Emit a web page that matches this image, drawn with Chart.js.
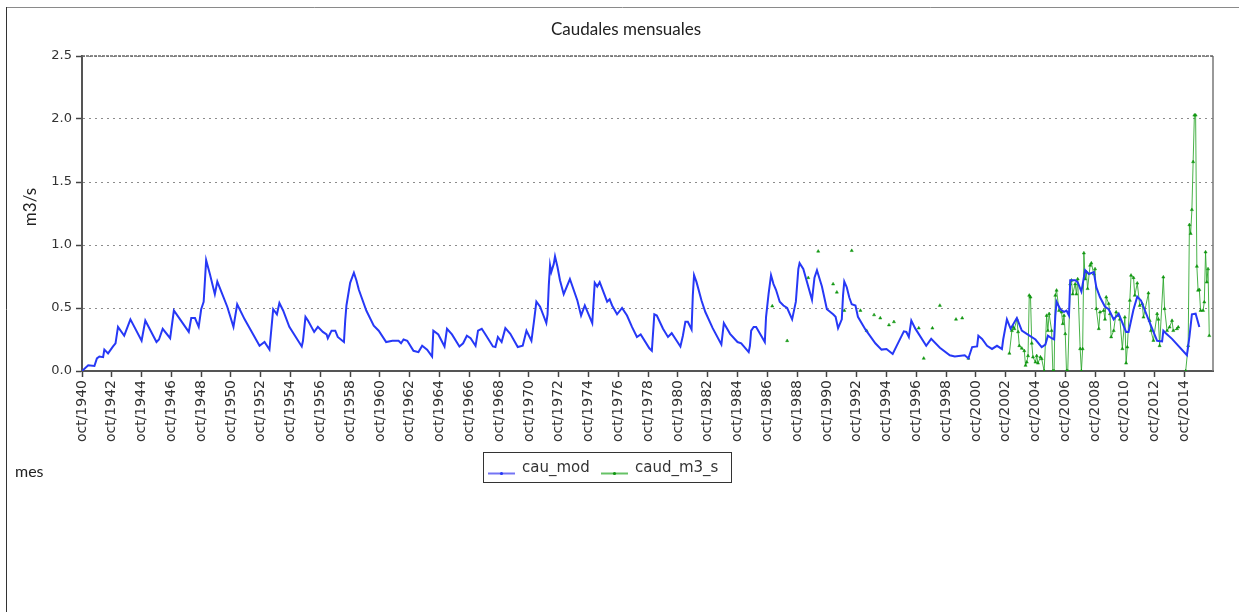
<!DOCTYPE html>
<html>
<head>
<meta charset="utf-8">
<title>Caudales mensuales</title>
<script src="https://cdn.jsdelivr.net/npm/chart.js@4.4.1/dist/chart.umd.min.js"></script>
<style>
  html, body { margin: 0; padding: 0; background: #fff; }
  #wrap { position: relative; width: 1239px; height: 612px; }
</style>
</head>
<body>
<div id="wrap"><canvas id="caudales" width="1239" height="612"></canvas></div>
<script>
// mes 0 = oct/1940, una etiqueta cada 24 meses
const startYear = 1940;
const lastMonth = 911;

// caudal modelado (cau_mod), m3/s
const cauModMonths = [0, 5, 10, 12, 14, 17, 18, 21, 25, 27, 29, 34, 39, 48, 51, 60, 62, 65, 71, 74,
  79, 86, 88, 91, 94, 96, 98, 100, 103, 107, 109, 117, 122, 125, 131, 143, 147, 151, 154, 157,
  159, 162, 167, 177, 178, 180, 182, 187, 190, 194, 197, 198, 201, 204, 206, 211, 212, 213, 216, 219,
  221, 223, 229, 235, 239, 245, 250, 255, 257, 259, 262, 267, 271, 274, 278, 282, 283, 287, 292, 294,
  298, 304, 307, 310, 313, 317, 319, 322, 325, 331, 333, 335, 338, 341, 345, 351, 355, 358, 362, 364,
  366, 369, 374, 375, 376, 377, 378, 380, 381, 383, 385, 388, 393, 399, 402, 405, 411, 413, 415, 417,
  423, 425, 427, 431, 435, 439, 443, 447, 450, 457, 459, 461, 463, 468, 472, 475, 479, 482, 484, 486,
  488, 491, 492, 493, 495, 499, 502, 508, 515, 517, 522, 528, 531, 537, 538, 539, 541, 543, 550, 551,
  553, 555, 557, 559, 562, 565, 568, 572, 575, 577, 578, 581, 588, 590, 592, 596, 600, 605, 607, 609,
  612, 613, 614, 616, 618, 620, 623, 625, 631, 639, 644, 648, 653, 656, 659, 662, 664, 666, 668, 671,
  680, 684, 691, 699, 703, 711, 714, 717, 721, 722, 725, 729, 733, 737, 741, 742, 745, 748, 750, 753,
  757, 761, 768, 773, 776, 778, 781, 783, 784, 785, 788, 791, 793, 795, 796, 800, 802, 805, 808, 811,
  815, 817, 820, 824, 827, 831, 835, 841, 843, 847, 850, 853, 859, 866, 870, 871, 873, 878, 890, 892,
  894, 897, 900];
const cauModValues = [0.00, 0.045, 0.04, 0.10, 0.115, 0.11, 0.17, 0.14, 0.195, 0.22, 0.35, 0.28, 0.41, 0.24, 0.40, 0.23, 0.25, 0.335, 0.26, 0.48,
  0.41, 0.31, 0.42, 0.42, 0.35, 0.49, 0.55, 0.88, 0.77, 0.61, 0.71, 0.51, 0.35, 0.53, 0.41, 0.20, 0.23, 0.17, 0.49, 0.45,
  0.54, 0.48, 0.35, 0.195, 0.24, 0.43, 0.40, 0.31, 0.35, 0.31, 0.29, 0.26, 0.32, 0.32, 0.27, 0.23, 0.40, 0.52, 0.70, 0.78,
  0.72, 0.645, 0.48, 0.36, 0.32, 0.23, 0.24, 0.24, 0.22, 0.25, 0.24, 0.16, 0.15, 0.20, 0.17, 0.115, 0.32, 0.29, 0.195, 0.335,
  0.29, 0.195, 0.22, 0.28, 0.26, 0.20, 0.32, 0.335, 0.29, 0.195, 0.19, 0.27, 0.23, 0.34, 0.295, 0.19, 0.20, 0.32, 0.24, 0.39,
  0.55, 0.51, 0.38, 0.45, 0.68, 0.84, 0.785, 0.85, 0.91, 0.825, 0.72, 0.61, 0.73, 0.56, 0.44, 0.52, 0.38, 0.70, 0.67, 0.705,
  0.55, 0.57, 0.52, 0.45, 0.50, 0.44, 0.35, 0.27, 0.29, 0.18, 0.16, 0.45, 0.44, 0.335, 0.27, 0.30, 0.24, 0.195, 0.28, 0.39,
  0.39, 0.33, 0.60, 0.76, 0.705, 0.56, 0.47, 0.34, 0.21, 0.38, 0.295, 0.23, 0.22, 0.15, 0.20, 0.32, 0.35, 0.35, 0.23, 0.43,
  0.61, 0.76, 0.69, 0.645, 0.55, 0.52, 0.50, 0.41, 0.55, 0.81, 0.856, 0.81, 0.565, 0.74, 0.80, 0.67, 0.49, 0.45, 0.43, 0.34,
  0.41, 0.60, 0.71, 0.665, 0.585, 0.53, 0.52, 0.43, 0.33, 0.22, 0.17, 0.175, 0.135, 0.195, 0.255, 0.315, 0.31, 0.27, 0.40, 0.34,
  0.20, 0.255, 0.185, 0.125, 0.115, 0.125, 0.10, 0.19, 0.195, 0.28, 0.255, 0.20, 0.175, 0.20, 0.175, 0.25, 0.41, 0.335, 0.37, 0.42,
  0.32, 0.295, 0.25, 0.19, 0.21, 0.28, 0.26, 0.25, 0.44, 0.55, 0.49, 0.47, 0.48, 0.44, 0.72, 0.72, 0.705, 0.63, 0.80, 0.77,
  0.785, 0.665, 0.585, 0.51, 0.49, 0.41, 0.455, 0.31, 0.31, 0.49, 0.59, 0.56, 0.41, 0.24, 0.235, 0.32, 0.30, 0.255, 0.125, 0.27,
  0.45, 0.455, 0.35];

// caudal medido (caud_m3_s), null = sin dato
const caudMonths = [556, 557, 568, 569, 585, 586, 593, 594, 605, 606, 608, 609, 614, 615, 620, 621, 627, 628, 632, 633,
  638, 639, 643, 644, 650, 651, 654, 655, 674, 675, 678, 679, 685, 686, 691, 692, 704, 705, 709, 710,
  714, 715,
  747, 749, 750, 751, 753, 754, 755, 757, 759, 760, 761, 762, 763, 764, 765, 766, 768, 769, 770, 772,
  773, 775, 777, 778, 779, 781, 782, 783, 784, 785, 787, 789, 790, 791, 792, 793, 794, 796, 797, 798,
  800, 801, 802, 804, 805, 806, 807, 808, 809, 810, 812, 813, 815, 816, 817, 819, 820, 823, 824, 825,
  827, 828, 829, 831, 833, 835, 836, 838, 840, 841, 842, 844, 845, 847, 848, 850, 852, 854, 855, 859,
  860, 861, 863, 866, 867, 868, 871, 872, 874, 876, 878, 879, 882, 883, 885,
  889, 891, 892, 893, 894, 895, 896, 897, 898, 899, 900, 901, 903, 904, 905, 906, 907, 908];
const caudValues = [0.515, null, 0.24, null, 0.74, null, 0.95, null, 0.69, null, 0.625, null, 0.48, null, 0.955, null, 0.48, null, 0.32, null,
  0.445, null, 0.42, null, 0.365, null, 0.39, null, 0.34, null, 0.10, null, 0.34, null, 0.52, null, 0.41, null, 0.42, null,
  0.10, null,
  0.14, 0.32, 0.35, 0.335, 0.41, 0.31, 0.20, 0.18, 0.16, 0.044, 0.07, 0.12, 0.60, 0.586, 0.22, 0.11, 0.07, 0.12, 0.062, 0.11,
  0.097, 0.0, 0.44, 0.32, 0.454, 0.32, 0.0, 0.0, 0.60, 0.64, 0.48, 0.467, 0.375, 0.44, 0.295, 0.0, 0.0, 0.69, 0.72, 0.61,
  0.69, 0.61, 0.73, 0.176, 0.0, 0.176, 0.936, 0.73, 0.785, 0.653, 0.838, 0.856, 0.77, 0.81, 0.494, 0.335, 0.467, 0.48, 0.41, 0.586,
  0.534, 0.454, 0.27, 0.32, 0.467, 0.44, 0.41, 0.176, 0.427, 0.062, 0.19, 0.56, 0.759, 0.74, 0.60, 0.697, 0.52, 0.534, 0.427, 0.618,
  0.40, 0.32, 0.242, 0.454, 0.41, 0.20, 0.745, 0.494, 0.32, 0.348, 0.40, 0.32, 0.335, 0.348, null,
  0.0, 0.2, 1.16, 1.09, 1.28, 1.66, 2.03, 2.03, 0.83, 0.64, 0.645, 0.48, 0.48, 0.547, 0.944, 0.705, 0.81, 0.28];

const yMax = 2.5;
const yStep = 0.5;

const blue = 'rgb(38, 56, 246)';
const greenLine = 'rgba(40, 165, 40, 0.85)';
const greenPoint = 'rgb(16, 150, 16)';

function toPoints(xs, ys) {
  return xs.map((m, i) => ({ x: m, y: ys[i] }));
}

// titulo, leyenda, rotulos y marco
const decoPlugin = {
  id: 'deco',
  afterDraw(chart) {
    const ctx = chart.ctx;
    const a = chart.chartArea;
    ctx.save();

    // marco exterior
    ctx.lineWidth = 1;
    ctx.strokeStyle = '#8a8a8a';
    ctx.beginPath();
    ctx.moveTo(6, 7.5);
    ctx.lineTo(1239, 7.5);
    ctx.stroke();
    ctx.strokeStyle = '#333';
    ctx.beginPath();
    ctx.moveTo(6.5, 7);
    ctx.lineTo(6.5, 612);
    ctx.stroke();

    // marco del grafico (arriba y derecha)
    ctx.strokeStyle = '#777';
    ctx.lineWidth = 1.5;
    ctx.beginPath();
    ctx.moveTo(a.right, a.top);
    ctx.lineTo(a.right, a.bottom);
    ctx.stroke();
    ctx.setLineDash([3, 1]);
    ctx.strokeStyle = '#666';
    ctx.beginPath();
    ctx.moveTo(a.left, a.top);
    ctx.lineTo(a.right, a.top);
    ctx.stroke();
    ctx.setLineDash([]);

    // titulo
    ctx.fillStyle = '#222';
    ctx.font = '17px Lato, "Open Sans", sans-serif';
    ctx.textAlign = 'center';
    ctx.textBaseline = 'middle';
    ctx.fillText('Caudales mensuales', 626, 30);

    // eje y
    ctx.save();
    ctx.translate(31, 207);
    ctx.rotate(-Math.PI / 2);
    ctx.font = '17px Lato, "Open Sans", sans-serif';
    ctx.fillText('m3/s', 0, 0);
    ctx.restore();

    // eje x
    ctx.textAlign = 'left';
    ctx.font = '16px Lato, "Open Sans", sans-serif';
    ctx.fillText('mes', 15, 472);

    // leyenda
    ctx.strokeStyle = '#333';
    ctx.lineWidth = 1;
    ctx.strokeRect(483.5, 452.5, 248, 30);
    ctx.lineWidth = 2;
    ctx.strokeStyle = '#7474f4';
    ctx.beginPath();
    ctx.moveTo(488, 473.5);
    ctx.lineTo(515, 473.5);
    ctx.stroke();
    ctx.fillStyle = blue;
    ctx.beginPath();
    ctx.arc(501.5, 473.5, 1.6, 0, Math.PI * 2);
    ctx.fill();
    ctx.strokeStyle = '#66c266';
    ctx.beginPath();
    ctx.moveTo(601, 473.5);
    ctx.lineTo(628, 473.5);
    ctx.stroke();
    ctx.fillStyle = greenPoint;
    ctx.beginPath();
    ctx.arc(614.5, 473.5, 1.6, 0, Math.PI * 2);
    ctx.fill();
    ctx.fillStyle = '#333';
    ctx.font = '15px "DejaVu Sans", sans-serif';
    ctx.fillText('cau_mod', 522, 468);
    ctx.fillText('caud_m3_s', 635, 468);

    ctx.restore();
  }
};

const ctx = document.getElementById('caudales');
const chart = new Chart(ctx.getContext('2d'), {
  type: 'line',
  data: {
    datasets: [{
      label: 'cau_mod',
      data: toPoints(cauModMonths, cauModValues),
      borderColor: blue,
      backgroundColor: blue,
      borderWidth: 2,
      pointRadius: 0,
      tension: 0
    }, {
      label: 'caud_m3_s',
      data: toPoints(caudMonths, caudValues),
      borderColor: greenLine,
      backgroundColor: greenPoint,
      borderWidth: 1,
      pointStyle: 'triangle',
      pointRadius: 1.8,
      pointBorderWidth: 0.5,
      pointBorderColor: greenPoint,
      pointBackgroundColor: greenPoint,
      spanGaps: false,
      tension: 0
    }]
  },
  options: {
    responsive: false,
    animation: false,
    events: [],
    layout: {
      padding: { left: 0, top: 56, right: 26, bottom: 0 }
    },
    plugins: {
      legend: { display: false },
      title: { display: false },
      tooltip: { enabled: false }
    },
    scales: {
      x: {
        type: 'linear',
        position: 'bottom',
        min: 0,
        max: lastMonth,
        afterFit: function(scale) { scale.height = 241; },
        ticks: {
          stepSize: 24,
          includeBounds: false,
          autoSkip: false,
          maxRotation: 90,
          minRotation: 90,
          padding: 3,
          color: '#333',
          font: { family: '"DejaVu Sans", sans-serif', size: 14 },
          callback: function(value) {
            return 'oct/' + (startYear + value / 12);
          }
        },
        grid: {
          drawOnChartArea: false,
          drawTicks: true,
          tickLength: 6,
          tickColor: '#444',
          tickWidth: 1.5
        },
        border: { color: '#555', width: 2 }
      },
      y: {
        min: 0,
        max: yMax,
        afterFit: function(scale) { scale.width = 82; },
        ticks: {
          stepSize: yStep,
          padding: 4,
          color: '#333',
          font: { family: '"DejaVu Sans", sans-serif', size: 13 },
          callback: function(value) { return value.toFixed(1); }
        },
        grid: {
          color: '#8c8c8c',
          lineWidth: 1,
          drawTicks: true,
          tickLength: 6,
          tickColor: '#444',
          tickWidth: 1.5
        },
        border: { color: '#555', width: 2, dash: [2, 4] }
      }
    }
  },
  plugins: [decoPlugin]
});
</script>
</body>
</html>
